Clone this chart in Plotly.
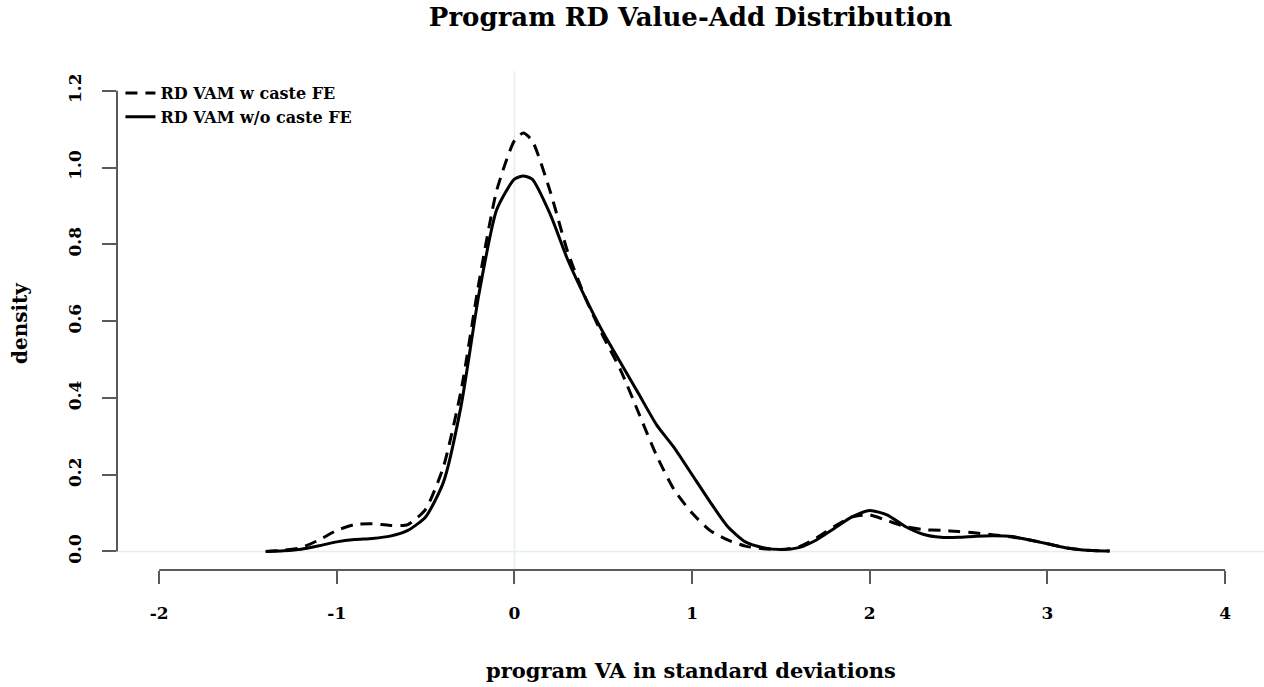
import plotly.graph_objects as go

# Kernel density estimates of program value-added (in SD units)
va_grid = [-1.4, -1.3, -1.2, -1.1, -1.0, -0.9, -0.8, -0.7, -0.6, -0.5, -0.4, -0.3, -0.2, -0.1,
           0.0, 0.05, 0.1, 0.2, 0.3, 0.4, 0.5, 0.6, 0.7, 0.8, 0.9, 1.0, 1.1, 1.2, 1.3, 1.4,
           1.5, 1.6, 1.7, 1.8, 1.9, 2.0, 2.1, 2.2, 2.3, 2.4, 2.5, 2.6, 2.7, 2.8, 2.9, 3.0,
           3.1, 3.2, 3.35]

dens_with_fe = [0.0, 0.003, 0.01, 0.03, 0.055, 0.07, 0.072, 0.068, 0.07, 0.11, 0.22, 0.42, 0.70, 0.94,
                1.07, 1.09, 1.07, 0.94, 0.78, 0.66, 0.56, 0.47, 0.36, 0.25, 0.16, 0.10, 0.055, 0.03, 0.014, 0.007,
                0.005, 0.012, 0.035, 0.065, 0.09, 0.095, 0.08, 0.065, 0.057, 0.055, 0.052, 0.048, 0.043, 0.038, 0.03, 0.02,
                0.01, 0.004, 0.001]

dens_without_fe = [0.0, 0.002, 0.006, 0.015, 0.025, 0.031, 0.034, 0.04, 0.055, 0.09, 0.18, 0.38, 0.67, 0.89,
                   0.97, 0.978, 0.97, 0.88, 0.76, 0.66, 0.57, 0.49, 0.41, 0.33, 0.27, 0.20, 0.13, 0.065, 0.025, 0.01,
                   0.005, 0.01, 0.03, 0.06, 0.09, 0.107, 0.095, 0.065, 0.045, 0.037, 0.037, 0.04, 0.041, 0.039, 0.03, 0.02,
                   0.01, 0.004, 0.001]

x_ticks = [-2, -1, 0, 1, 2, 3, 4]
y_ticks = [0.0, 0.2, 0.4, 0.6, 0.8, 1.0, 1.2]
y_ticktext = ["0.0", "0.2", "0.4", "0.6", "0.8", "1.0", "1.2"]

FONT = "DejaVu Serif"
AXIS_GREY = "#5a5a5a"
REF_LINE = "#e2efee"

fig = go.Figure()
fig.add_trace(go.Scatter(
    x=va_grid, y=dens_with_fe, mode="lines", name="<b>RD VAM w caste FE</b>",
    line=dict(color="black", width=3, dash="12px,8px", shape="spline", smoothing=0.6),
))
fig.add_trace(go.Scatter(
    x=va_grid, y=dens_without_fe, mode="lines", name="<b>RD VAM w/o caste FE</b>",
    line=dict(color="black", width=3, shape="spline", smoothing=0.6),
))

x_axis_pos = 15 / 514  # x axis drawn a little below y = 0

fig.update_layout(
    width=1264, height=687,
    margin=dict(l=117, r=0, t=71, b=102),
    paper_bgcolor="white", plot_bgcolor="white",
    font=dict(family=FONT, color="black"),
    title=dict(text="<b>Program RD Value-Add Distribution</b>", x=0.5, xref="paper",
               y=1 - 17 / 687, yref="container", yanchor="middle",
               font=dict(family=FONT, size=26, color="black")),
    xaxis=dict(range=[-2.237, 4.219], tickvals=x_ticks, ticktext=[f"<b>{v}</b>" for v in x_ticks],
               ticks="outside", ticklen=13, tickwidth=2, tickcolor=AXIS_GREY,
               showline=False, showgrid=False, zeroline=False,
               anchor="free", position=x_axis_pos, ticklabelstandoff=15,
               tickfont=dict(family=FONT, size=17, color="black")),
    yaxis=dict(range=[-0.0873, 1.2516], tickvals=y_ticks, ticktext=[f"<b>{t}</b>" for t in y_ticktext],
               tickangle=-90, ticks="outside", ticklen=14, tickwidth=2, tickcolor=AXIS_GREY,
               showline=False, showgrid=False, zeroline=False, ticklabelstandoff=14,
               tickfont=dict(family=FONT, size=17, color="black")),
    showlegend=True,
    legend=dict(x=0.003, y=1 - 5 / 514, xanchor="left", yanchor="top", bgcolor="rgba(0,0,0,0)",
                borderwidth=0, tracegroupgap=0,
                font=dict(family=FONT, size=16, color="black")),
)

# reference lines at x = 0 and y = 0
fig.add_shape(type="line", xref="x", yref="paper", x0=0, x1=0, y0=0, y1=1,
              line=dict(color=REF_LINE, width=1.5), layer="below")
fig.add_shape(type="line", xref="paper", yref="y", x0=0, x1=1, y0=0, y1=0,
              line=dict(color=REF_LINE, width=1.5), layer="below")

# axis lines spanning only the labelled tick range
fig.add_shape(type="line", xref="paper", yref="y", x0=0, x1=0, y0=0, y1=1.2,
              line=dict(color=AXIS_GREY, width=2))
fig.add_shape(type="line", xref="x", yref="paper", x0=-2, x1=4, y0=x_axis_pos, y1=x_axis_pos,
              line=dict(color=AXIS_GREY, width=2))

# axis titles
fig.add_annotation(text="<b>program VA in standard deviations</b>", xref="paper", yref="paper",
                   x=0.5, y=-85 / 514, showarrow=False, yanchor="middle",
                   font=dict(family=FONT, size=21, color="black"))
fig.add_annotation(text="<b>density</b>", xref="paper", yref="paper",
                   x=-97 / 1147, y=262 / 514, showarrow=False, textangle=-90,
                   xanchor="center", yanchor="middle",
                   font=dict(family=FONT, size=20, color="black"))

fig.write_html("out.html")
